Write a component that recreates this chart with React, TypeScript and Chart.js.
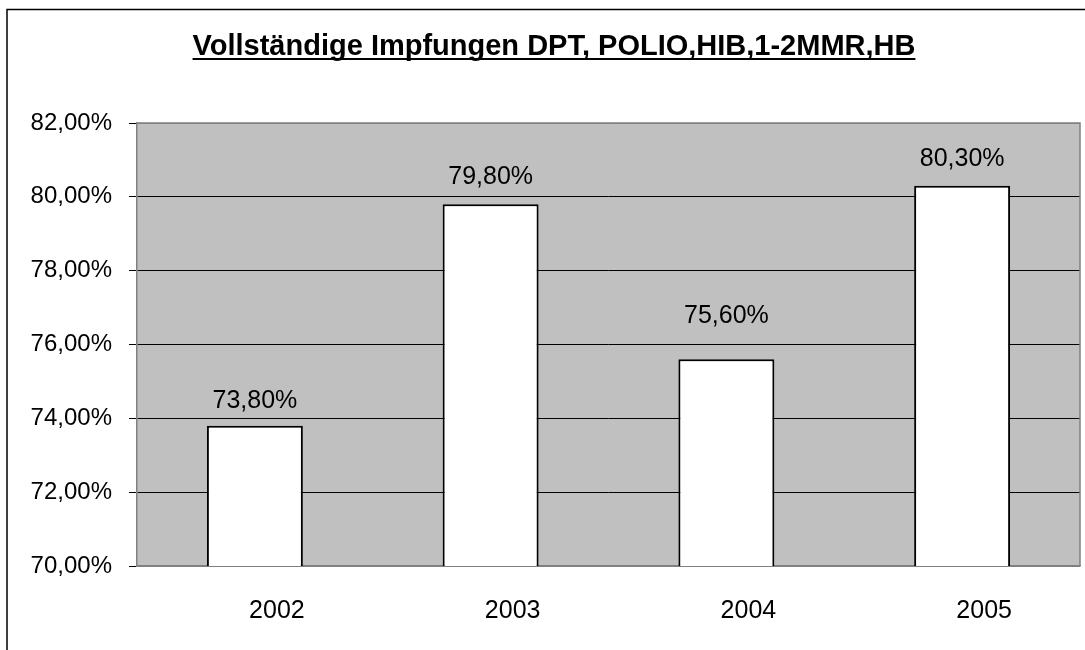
import React, { useEffect, useRef } from "react";
import { Chart, registerables } from "chart.js";

Chart.register(...registerables);

const TITLE = "Vollständige Impfungen DPT, POLIO,HIB,1-2MMR,HB";
const categories = ["2002", "2003", "2004", "2005"];
const values = [73.8, 79.8, 75.6, 80.3];
const valueLabels = ["73,80%", "79,80%", "75,60%", "80,30%"];
const yMin = 70;
const yMax = 82;
const yStep = 2;
// vertical gap (px) between bar top and its value label
const labelLift = [18, 20, 36, 20];

const FONT = "'Liberation Sans', Arial, sans-serif";

const fmtPct = (v: number) => v.toFixed(2).replace(".", ",") + "%";

const framePlugin = {
  id: "frameAndBg",
  beforeDraw(chart: any) {
    const { ctx, chartArea } = chart;
    ctx.save();
    ctx.fillStyle = "#ffffff";
    ctx.fillRect(0, 0, chart.width, chart.height);
    ctx.strokeStyle = "#000000";
    ctx.lineWidth = 1.5;
    ctx.strokeRect(7, 9.5, 3000, 3000);
    ctx.fillStyle = "#C0C0C0";
    ctx.fillRect(chartArea.left, chartArea.top, chartArea.right - chartArea.left, chartArea.bottom - chartArea.top);
    ctx.restore();
  },
  beforeDatasetsDraw(chart: any) {
    const { ctx, chartArea } = chart;
    ctx.save();
    ctx.strokeStyle = "#808080";
    ctx.lineWidth = 1.5;
    ctx.beginPath();
    ctx.moveTo(chartArea.left, chartArea.top);
    ctx.lineTo(chartArea.right, chartArea.top);
    ctx.lineTo(chartArea.right, chartArea.bottom);
    ctx.stroke();
    ctx.restore();
  },
  afterDatasetsDraw(chart: any) {
    const { ctx } = chart;
    const meta = chart.getDatasetMeta(0);
    ctx.save();
    ctx.fillStyle = "#000000";
    ctx.font = `25px ${FONT}`;
    ctx.textAlign = "center";
    ctx.textBaseline = "alphabetic";
    meta.data.forEach((bar: any, i: number) => {
      ctx.fillText(valueLabels[i], bar.x, bar.y - labelLift[i]);
    });
    ctx.restore();
  },
  afterDraw(chart: any) {
    const { ctx } = chart;
    ctx.save();
    ctx.fillStyle = "#000000";
    ctx.font = `bold 29px ${FONT}`;
    ctx.textAlign = "center";
    ctx.textBaseline = "alphabetic";
    const cx = 554;
    const by = 55;
    ctx.fillText(TITLE, cx, by);
    const w = ctx.measureText(TITLE).width;
    ctx.strokeStyle = "#000000";
    ctx.lineWidth = 2;
    ctx.beginPath();
    ctx.moveTo(cx - w / 2, by + 4);
    ctx.lineTo(cx + w / 2, by + 4);
    ctx.stroke();
    ctx.restore();
  },
};

export default function App() {
  const ref = useRef<HTMLCanvasElement | null>(null);

  useEffect(() => {
    if (!ref.current) return;
    const chart = new Chart(ref.current, {
      type: "bar",
      data: {
        labels: categories,
        datasets: [
          {
            data: values,
            backgroundColor: "#ffffff",
            borderColor: "#000000",
            borderWidth: 2,
            borderSkipped: false,
            categoryPercentage: 1,
            barPercentage: 0.407,
          },
        ],
      },
      options: {
        responsive: false,
        animation: false,
        layout: { padding: { top: 123, right: 5, left: 0, bottom: 0 } },
        plugins: {
          legend: { display: false },
          title: { display: false },
          tooltip: { enabled: false },
        },
        scales: {
          x: {
            afterFit: (s: any) => {
              s.height = 84;
            },
            grid: { display: false, drawTicks: false },
            border: { display: true, color: "#808080", width: 1.5 },
            ticks: {
              color: "#000000",
              font: { family: FONT, size: 25 },
              padding: 30,
              labelOffset: 22,
            },
          },
          y: {
            min: yMin,
            max: yMax,
            afterFit: (s: any) => {
              s.width = 137;
            },
            grid: {
              color: (c: any) =>
                c.tick && (c.tick.value === yMax || c.tick.value === yMin) ? "#808080" : "#000000",
              tickColor: "#000000",
              tickLength: 8,
              lineWidth: 1,
            },
            border: { display: true, color: "#808080", width: 1.5 },
            ticks: {
              stepSize: yStep,
              color: "#000000",
              font: { family: FONT, size: 24 },
              padding: 17,
              callback: (v: any) => fmtPct(Number(v)),
            },
          },
        },
      },
      plugins: [framePlugin],
    });
    return () => chart.destroy();
  }, []);

  return (
    <div style={{ position: "fixed", left: 0, top: 0, width: 1085, height: 650 }}>
      <canvas ref={ref} width={1085} height={650} style={{ display: "block" }} />
    </div>
  );
}
